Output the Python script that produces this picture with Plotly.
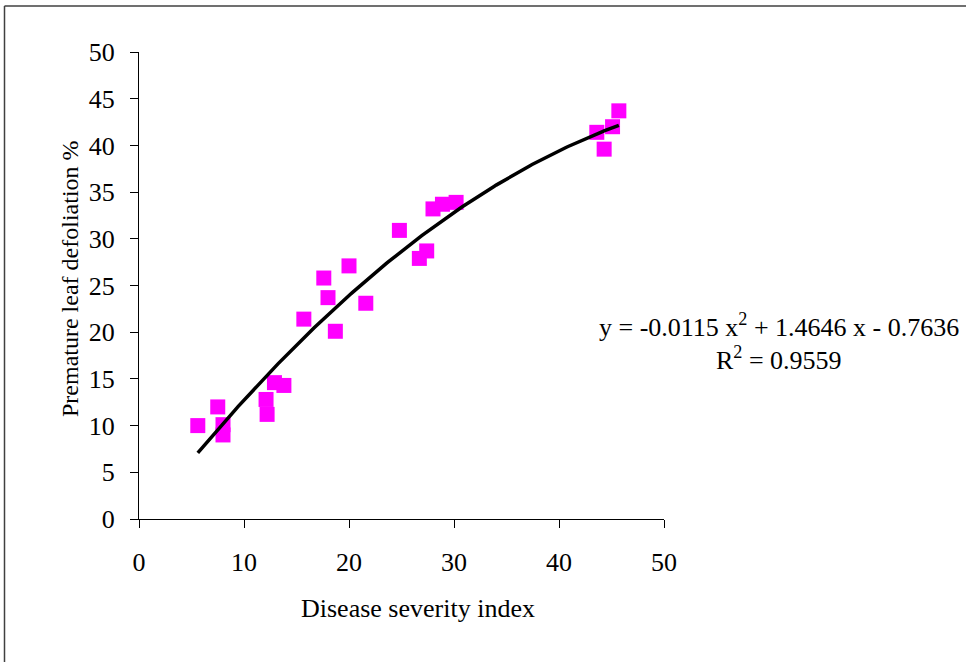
import numpy as np
import plotly.graph_objects as go

severity = [5.6, 7.5, 8.0, 8.0, 12.1, 12.2, 12.9, 13.8, 15.7, 17.6, 18.0, 18.7,
            20.0, 21.6, 24.8, 26.7, 27.4, 28.0, 28.9, 30.2, 43.6, 44.3, 45.1, 45.7]
defoliation = [10.0, 12.0, 10.1, 9.0, 12.8, 11.2, 14.6, 14.3, 21.4, 25.8, 23.7, 20.1,
               27.1, 23.1, 30.9, 27.9, 28.7, 33.2, 33.7, 33.9, 41.4, 39.6, 42.0, 43.7]
coef = [-0.0115, 1.4646, -0.7636]
r2 = 0.9559

xt = np.linspace(min(severity), max(severity), 200)
yt = np.polyval(coef, xt)

FONT = "Liberation Serif"
FS = 26
fig = go.Figure()
fig.add_trace(go.Scatter(x=severity, y=defoliation, mode="markers",
                         marker=dict(symbol="square", size=15, color="#FF00FF",
                                     line=dict(width=0)), showlegend=False))
fig.add_trace(go.Scatter(x=xt, y=yt, mode="lines",
                         line=dict(color="black", width=3.5), showlegend=False))

L, R, T, B = 139, 302, 52, 143
W, H = 966, 662
pw, ph = W - L - R, H - T - B

fig.update_layout(
    width=W, height=H, margin=dict(l=L, r=R, t=T, b=B),
    paper_bgcolor="white", plot_bgcolor="white",
    font=dict(family=FONT, size=FS, color="black"),
    xaxis=dict(range=[0, 50], dtick=10, showgrid=False, zeroline=False,
               showline=True, linecolor="black", linewidth=1,
               ticks="outside", ticklen=8, tickcolor="black",
               ticklabelstandoff=12,
               tickfont=dict(family=FONT, size=FS)),
    yaxis=dict(range=[0, 50], dtick=5, showgrid=False, zeroline=False,
               showline=True, linecolor="black", linewidth=1,
               ticks="outside", ticklen=8, tickcolor="black",
               ticklabelstandoff=10,
               tickfont=dict(family=FONT, size=FS)),
    shapes=[
        dict(type="line", xref="paper", yref="paper",
             x0=(4.5 - L) / pw, x1=(966 - L) / pw,
             y0=1 + (T - 6) / ph, y1=1 + (T - 6) / ph,
             line=dict(color="#404040", width=1.5)),
        dict(type="line", xref="paper", yref="paper",
             x0=(4.5 - L) / pw, x1=(4.5 - L) / pw,
             y0=1 + (T - 6) / ph, y1=-(H - T - ph) / ph - 0.01,
             line=dict(color="#404040", width=1.5)),
    ],
    annotations=[
        dict(text="Disease severity index", xref="paper", yref="paper",
             x=(418 - L) / pw, y=1 - (608 - T) / ph, showarrow=False,
             font=dict(family=FONT, size=FS), xanchor="center", yanchor="middle"),
        dict(text="Premature leaf defoliation %", xref="paper", yref="paper",
             x=(70 - L) / pw, y=1 - (279 - T) / ph, showarrow=False, textangle=-90,
             font=dict(family=FONT, size=24), xanchor="center", yanchor="middle"),
        dict(text="y = %.4f x<sup>2</sup> + %.4f x - %.4f" % (coef[0], coef[1], -coef[2]),
             xref="paper", yref="paper",
             x=(779 - L) / pw, y=1 - (325 - T) / ph, showarrow=False,
             font=dict(family=FONT, size=FS), xanchor="center", yanchor="middle"),
        dict(text="R<sup>2</sup> = %.4f" % r2, xref="paper", yref="paper",
             x=(779 - L) / pw, y=1 - (358 - T) / ph, showarrow=False,
             font=dict(family=FONT, size=FS), xanchor="center", yanchor="middle"),
    ],
)
fig.write_html("out.html", config={"displayModeBar": False},
               post_script="document.body.style.margin='0px';")
